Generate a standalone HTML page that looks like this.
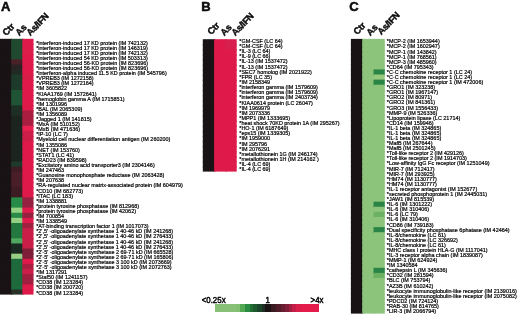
<!DOCTYPE html>
<html><head><meta charset="utf-8"><style>
html,body{margin:0;padding:0;background:#fff;width:520px;height:316px;overflow:hidden;position:relative}
body{filter:blur(0.3px)}
body{font-family:"Liberation Sans",sans-serif;color:#111}
.lbl{position:absolute;font-weight:bold;font-size:13px;line-height:12px;-webkit-text-stroke:0.5px #000}
.txt text{fill:#000;stroke:#000;stroke-width:0.2px;font-family:'Liberation Sans',sans-serif}
.hd{position:absolute;font-weight:bold;font-size:9.2px;letter-spacing:-0.25px;-webkit-text-stroke:0.4px #000;line-height:8px;white-space:nowrap;transform-origin:0 100%;transform:rotate(-46deg)}
.cb{position:absolute;font-size:8.1px;line-height:8px;white-space:nowrap;font-weight:normal;-webkit-text-stroke:0.45px #000}
</style></head><body>
<div class="lbl" style="left:1px;top:1px">A</div>
<div class="lbl" style="left:201.3px;top:1px">B</div>
<div class="lbl" style="left:349.3px;top:1px">C</div>
<div class="hd" style="left:7.20px;top:28.60px;letter-spacing:-0.15px">Ctr</div>
<div class="hd" style="left:19.60px;top:29.20px;letter-spacing:-0.1px">As</div>
<div class="hd" style="left:31.20px;top:29.00px;letter-spacing:-0.3px">As/IFN</div>
<div class="hd" style="left:212.10px;top:28.10px;letter-spacing:-0.15px">Ctr</div>
<div class="hd" style="left:224.50px;top:28.70px;letter-spacing:-0.1px">As</div>
<div class="hd" style="left:236.10px;top:28.50px;letter-spacing:-0.3px">As/IFN</div>
<div class="hd" style="left:358.20px;top:28.00px;letter-spacing:-0.15px">Ctr</div>
<div class="hd" style="left:370.60px;top:28.60px;letter-spacing:-0.1px">As</div>
<div class="hd" style="left:382.20px;top:28.40px;letter-spacing:-0.3px">As/IFN</div>
<svg width="520" height="316" viewBox="0 0 520 316" style="position:absolute;left:0;top:0">
<rect x="0.000" y="38.800" width="12.370" height="6.316" fill="#1a1315"/>
<rect x="0.000" y="43.916" width="12.370" height="6.316" fill="#1a1315"/>
<rect x="0.000" y="49.032" width="12.370" height="6.316" fill="#1a1315"/>
<rect x="0.000" y="54.148" width="12.370" height="6.316" fill="#1a1315"/>
<rect x="0.000" y="59.264" width="12.370" height="6.316" fill="#1a1315"/>
<rect x="0.000" y="64.380" width="12.370" height="6.316" fill="#1a1315"/>
<rect x="0.000" y="69.496" width="12.370" height="6.316" fill="#1a1315"/>
<rect x="0.000" y="74.612" width="12.370" height="6.316" fill="#1a1315"/>
<rect x="0.000" y="79.728" width="12.370" height="6.316" fill="#1a1315"/>
<rect x="0.000" y="84.844" width="12.370" height="6.316" fill="#1a1315"/>
<rect x="0.000" y="89.960" width="12.370" height="6.316" fill="#1a1315"/>
<rect x="0.000" y="95.076" width="12.370" height="6.316" fill="#1a1315"/>
<rect x="0.000" y="100.192" width="12.370" height="6.316" fill="#1a1315"/>
<rect x="0.000" y="105.308" width="12.370" height="6.316" fill="#1a1315"/>
<rect x="0.000" y="110.424" width="12.370" height="6.316" fill="#1a1315"/>
<rect x="0.000" y="115.540" width="12.370" height="6.316" fill="#1a1315"/>
<rect x="0.000" y="120.656" width="12.370" height="6.316" fill="#1a1315"/>
<rect x="0.000" y="125.772" width="12.370" height="6.316" fill="#1a1315"/>
<rect x="0.000" y="130.888" width="12.370" height="6.316" fill="#1a1315"/>
<rect x="0.000" y="136.004" width="12.370" height="6.316" fill="#1a1315"/>
<rect x="0.000" y="141.120" width="12.370" height="6.316" fill="#1a1315"/>
<rect x="0.000" y="146.236" width="12.370" height="6.316" fill="#1a1315"/>
<rect x="0.000" y="151.352" width="12.370" height="6.316" fill="#1a1315"/>
<rect x="0.000" y="156.468" width="12.370" height="6.316" fill="#1a1315"/>
<rect x="0.000" y="161.584" width="12.370" height="6.316" fill="#1a1315"/>
<rect x="0.000" y="166.700" width="12.370" height="6.316" fill="#1a1315"/>
<rect x="0.000" y="171.816" width="12.370" height="6.316" fill="#1a1315"/>
<rect x="0.000" y="176.932" width="12.370" height="6.316" fill="#1a1315"/>
<rect x="0.000" y="182.048" width="12.370" height="6.316" fill="#1a1315"/>
<rect x="0.000" y="187.164" width="12.370" height="6.316" fill="#1a1315"/>
<rect x="0.000" y="192.280" width="12.370" height="6.316" fill="#1a1315"/>
<rect x="0.000" y="197.396" width="12.370" height="6.316" fill="#1a1315"/>
<rect x="0.000" y="202.512" width="12.370" height="6.316" fill="#1a1315"/>
<rect x="0.000" y="207.628" width="12.370" height="6.316" fill="#1a1315"/>
<rect x="0.000" y="212.744" width="12.370" height="6.316" fill="#1a1315"/>
<rect x="0.000" y="217.860" width="12.370" height="6.316" fill="#1a1315"/>
<rect x="0.000" y="222.976" width="12.370" height="6.316" fill="#1a1315"/>
<rect x="0.000" y="228.092" width="12.370" height="6.316" fill="#1a1315"/>
<rect x="0.000" y="233.208" width="12.370" height="6.316" fill="#1a1315"/>
<rect x="0.000" y="238.324" width="12.370" height="6.316" fill="#1a1315"/>
<rect x="0.000" y="243.440" width="12.370" height="6.316" fill="#1a1315"/>
<rect x="0.000" y="248.556" width="12.370" height="6.316" fill="#1a1315"/>
<rect x="0.000" y="253.672" width="12.370" height="6.316" fill="#1a1315"/>
<rect x="0.000" y="258.788" width="12.370" height="6.316" fill="#1a1315"/>
<rect x="0.000" y="263.904" width="12.370" height="6.316" fill="#1a1315"/>
<rect x="0.000" y="269.020" width="12.370" height="6.316" fill="#1a1315"/>
<rect x="0.000" y="274.136" width="12.370" height="6.316" fill="#1a1315"/>
<rect x="0.000" y="279.252" width="12.370" height="6.316" fill="#1a1315"/>
<rect x="0.000" y="284.368" width="12.370" height="6.316" fill="#1a1315"/>
<rect x="0.000" y="289.484" width="12.370" height="5.116" fill="#1a1315"/>
<rect x="11.170" y="38.800" width="12.370" height="6.316" fill="#1f4a30"/>
<rect x="11.170" y="43.916" width="12.370" height="6.316" fill="#1f4a30"/>
<rect x="11.170" y="49.032" width="12.370" height="6.316" fill="#1f4a30"/>
<rect x="11.170" y="54.148" width="12.370" height="6.316" fill="#1f4a30"/>
<rect x="11.170" y="59.264" width="12.370" height="6.316" fill="#4a2028"/>
<rect x="11.170" y="64.380" width="12.370" height="6.316" fill="#2a2224"/>
<rect x="11.170" y="69.496" width="12.370" height="6.316" fill="#222a24"/>
<rect x="11.170" y="74.612" width="12.370" height="6.316" fill="#1e3a2a"/>
<rect x="11.170" y="79.728" width="12.370" height="6.316" fill="#1e3a2a"/>
<rect x="11.170" y="84.844" width="12.370" height="6.316" fill="#1e3a2a"/>
<rect x="11.170" y="89.960" width="12.370" height="6.316" fill="#1f5535"/>
<rect x="11.170" y="95.076" width="12.370" height="6.316" fill="#1f5535"/>
<rect x="11.170" y="100.192" width="12.370" height="6.316" fill="#1f5535"/>
<rect x="11.170" y="105.308" width="12.370" height="6.316" fill="#1e3026"/>
<rect x="11.170" y="110.424" width="12.370" height="6.316" fill="#1e3026"/>
<rect x="11.170" y="115.540" width="12.370" height="6.316" fill="#1c2420"/>
<rect x="11.170" y="120.656" width="12.370" height="6.316" fill="#1c2420"/>
<rect x="11.170" y="125.772" width="12.370" height="6.316" fill="#1c2420"/>
<rect x="11.170" y="130.888" width="12.370" height="6.316" fill="#1c2420"/>
<rect x="11.170" y="136.004" width="12.370" height="6.316" fill="#1c2420"/>
<rect x="11.170" y="141.120" width="12.370" height="6.316" fill="#1c2420"/>
<rect x="11.170" y="146.236" width="12.370" height="6.316" fill="#1c2420"/>
<rect x="11.170" y="151.352" width="12.370" height="6.316" fill="#1c2420"/>
<rect x="11.170" y="156.468" width="12.370" height="6.316" fill="#1c2420"/>
<rect x="11.170" y="161.584" width="12.370" height="6.316" fill="#1e3a2a"/>
<rect x="11.170" y="166.700" width="12.370" height="6.316" fill="#3e1c24"/>
<rect x="11.170" y="171.816" width="12.370" height="6.316" fill="#4a1e28"/>
<rect x="11.170" y="176.932" width="12.370" height="6.316" fill="#4a1e28"/>
<rect x="11.170" y="182.048" width="12.370" height="6.316" fill="#4a1e28"/>
<rect x="11.170" y="187.164" width="12.370" height="6.316" fill="#3e1c24"/>
<rect x="11.170" y="192.280" width="12.370" height="6.316" fill="#3e1c24"/>
<rect x="11.170" y="197.396" width="12.370" height="6.316" fill="#288c48"/>
<rect x="11.170" y="202.512" width="12.370" height="6.316" fill="#288c48"/>
<rect x="11.170" y="207.628" width="12.370" height="6.316" fill="#96d084"/>
<rect x="11.170" y="212.744" width="12.370" height="6.316" fill="#288c48"/>
<rect x="11.170" y="217.860" width="12.370" height="6.316" fill="#96d084"/>
<rect x="11.170" y="222.976" width="12.370" height="6.316" fill="#23783f"/>
<rect x="11.170" y="228.092" width="12.370" height="6.316" fill="#23783f"/>
<rect x="11.170" y="233.208" width="12.370" height="6.316" fill="#23783f"/>
<rect x="11.170" y="238.324" width="12.370" height="6.316" fill="#50a860"/>
<rect x="11.170" y="243.440" width="12.370" height="6.316" fill="#1a2a22"/>
<rect x="11.170" y="248.556" width="12.370" height="6.316" fill="#1a2a22"/>
<rect x="11.170" y="253.672" width="12.370" height="6.316" fill="#96d084"/>
<rect x="11.170" y="258.788" width="12.370" height="6.316" fill="#1f6a3c"/>
<rect x="11.170" y="263.904" width="12.370" height="6.316" fill="#1f6a3c"/>
<rect x="11.170" y="269.020" width="12.370" height="6.316" fill="#1f6a3c"/>
<rect x="11.170" y="274.136" width="12.370" height="6.316" fill="#1f6a3c"/>
<rect x="11.170" y="279.252" width="12.370" height="6.316" fill="#1f6a3c"/>
<rect x="11.170" y="284.368" width="12.370" height="6.316" fill="#1f6a3c"/>
<rect x="11.170" y="289.484" width="12.370" height="5.116" fill="#283028"/>
<rect x="22.340" y="38.800" width="11.170" height="6.316" fill="#de1a4a"/>
<rect x="22.340" y="43.916" width="11.170" height="6.316" fill="#de1a4a"/>
<rect x="22.340" y="49.032" width="11.170" height="6.316" fill="#dc1e4a"/>
<rect x="22.340" y="54.148" width="11.170" height="6.316" fill="#de1a4a"/>
<rect x="22.340" y="59.264" width="11.170" height="6.316" fill="#de1a4a"/>
<rect x="22.340" y="64.380" width="11.170" height="6.316" fill="#de1a4a"/>
<rect x="22.340" y="69.496" width="11.170" height="6.316" fill="#de1a4a"/>
<rect x="22.340" y="74.612" width="11.170" height="6.316" fill="#d41e48"/>
<rect x="22.340" y="79.728" width="11.170" height="6.316" fill="#de1a4a"/>
<rect x="22.340" y="84.844" width="11.170" height="6.316" fill="#de1a4a"/>
<rect x="22.340" y="89.960" width="11.170" height="6.316" fill="#de1a4a"/>
<rect x="22.340" y="95.076" width="11.170" height="6.316" fill="#de1a4a"/>
<rect x="22.340" y="100.192" width="11.170" height="6.316" fill="#de1a4a"/>
<rect x="22.340" y="105.308" width="11.170" height="6.316" fill="#de1a4a"/>
<rect x="22.340" y="110.424" width="11.170" height="6.316" fill="#a81e40"/>
<rect x="22.340" y="115.540" width="11.170" height="6.316" fill="#a81e40"/>
<rect x="22.340" y="120.656" width="11.170" height="6.316" fill="#a81e40"/>
<rect x="22.340" y="125.772" width="11.170" height="6.316" fill="#ea2050"/>
<rect x="22.340" y="130.888" width="11.170" height="6.316" fill="#cc1e48"/>
<rect x="22.340" y="136.004" width="11.170" height="6.316" fill="#cc1e48"/>
<rect x="22.340" y="141.120" width="11.170" height="6.316" fill="#de1a4a"/>
<rect x="22.340" y="146.236" width="11.170" height="6.316" fill="#de1a4a"/>
<rect x="22.340" y="151.352" width="11.170" height="6.316" fill="#de1a4a"/>
<rect x="22.340" y="156.468" width="11.170" height="6.316" fill="#de1a4a"/>
<rect x="22.340" y="161.584" width="11.170" height="6.316" fill="#de1a4a"/>
<rect x="22.340" y="166.700" width="11.170" height="6.316" fill="#de1a4a"/>
<rect x="22.340" y="171.816" width="11.170" height="6.316" fill="#de1a4a"/>
<rect x="22.340" y="176.932" width="11.170" height="6.316" fill="#de1a4a"/>
<rect x="22.340" y="182.048" width="11.170" height="6.316" fill="#de1a4a"/>
<rect x="22.340" y="187.164" width="11.170" height="6.316" fill="#de1a4a"/>
<rect x="22.340" y="192.280" width="11.170" height="6.316" fill="#de1a4a"/>
<rect x="22.340" y="197.396" width="11.170" height="6.316" fill="#962040"/>
<rect x="22.340" y="202.512" width="11.170" height="6.316" fill="#962040"/>
<rect x="22.340" y="207.628" width="11.170" height="6.316" fill="#de1a4a"/>
<rect x="22.340" y="212.744" width="11.170" height="6.316" fill="#962040"/>
<rect x="22.340" y="217.860" width="11.170" height="6.316" fill="#de1a4a"/>
<rect x="22.340" y="222.976" width="11.170" height="6.316" fill="#a02040"/>
<rect x="22.340" y="228.092" width="11.170" height="6.316" fill="#c81e48"/>
<rect x="22.340" y="233.208" width="11.170" height="6.316" fill="#c81e48"/>
<rect x="22.340" y="238.324" width="11.170" height="6.316" fill="#c81e48"/>
<rect x="22.340" y="243.440" width="11.170" height="6.316" fill="#c81e48"/>
<rect x="22.340" y="248.556" width="11.170" height="6.316" fill="#7e1e38"/>
<rect x="22.340" y="253.672" width="11.170" height="6.316" fill="#7e1e38"/>
<rect x="22.340" y="258.788" width="11.170" height="6.316" fill="#de1a4a"/>
<rect x="22.340" y="263.904" width="11.170" height="6.316" fill="#aa1e42"/>
<rect x="22.340" y="269.020" width="11.170" height="6.316" fill="#c81e48"/>
<rect x="22.340" y="274.136" width="11.170" height="6.316" fill="#a01e40"/>
<rect x="22.340" y="279.252" width="11.170" height="6.316" fill="#a01e40"/>
<rect x="22.340" y="284.368" width="11.170" height="6.316" fill="#de1a4a"/>
<rect x="22.340" y="289.484" width="11.170" height="5.116" fill="#de1a4a"/>
<rect x="202.800" y="39.200" width="12.500" height="6.292" fill="#1a1315"/>
<rect x="202.800" y="44.292" width="12.500" height="6.292" fill="#1a1315"/>
<rect x="202.800" y="49.385" width="12.500" height="6.292" fill="#1a1315"/>
<rect x="202.800" y="54.477" width="12.500" height="6.292" fill="#1a1315"/>
<rect x="202.800" y="59.569" width="12.500" height="6.292" fill="#1a1315"/>
<rect x="202.800" y="64.662" width="12.500" height="6.292" fill="#1a1315"/>
<rect x="202.800" y="69.754" width="12.500" height="6.292" fill="#1a1315"/>
<rect x="202.800" y="74.846" width="12.500" height="6.292" fill="#1a1315"/>
<rect x="202.800" y="79.938" width="12.500" height="6.292" fill="#1a1315"/>
<rect x="202.800" y="85.031" width="12.500" height="6.292" fill="#1a1315"/>
<rect x="202.800" y="90.123" width="12.500" height="6.292" fill="#1a1315"/>
<rect x="202.800" y="95.215" width="12.500" height="6.292" fill="#1a1315"/>
<rect x="202.800" y="100.308" width="12.500" height="6.292" fill="#1a1315"/>
<rect x="202.800" y="105.400" width="12.500" height="6.292" fill="#1a1315"/>
<rect x="202.800" y="110.492" width="12.500" height="6.292" fill="#1a1315"/>
<rect x="202.800" y="115.585" width="12.500" height="6.292" fill="#1a1315"/>
<rect x="202.800" y="120.677" width="12.500" height="6.292" fill="#1a1315"/>
<rect x="202.800" y="125.769" width="12.500" height="6.292" fill="#1a1315"/>
<rect x="202.800" y="130.862" width="12.500" height="6.292" fill="#1a1315"/>
<rect x="202.800" y="135.954" width="12.500" height="6.292" fill="#1a1315"/>
<rect x="202.800" y="141.046" width="12.500" height="6.292" fill="#1a1315"/>
<rect x="202.800" y="146.138" width="12.500" height="6.292" fill="#1a1315"/>
<rect x="202.800" y="151.231" width="12.500" height="6.292" fill="#1a1315"/>
<rect x="202.800" y="156.323" width="12.500" height="6.292" fill="#1a1315"/>
<rect x="202.800" y="161.415" width="12.500" height="6.292" fill="#1a1315"/>
<rect x="202.800" y="166.508" width="12.500" height="5.092" fill="#1a1315"/>
<rect x="214.100" y="39.200" width="12.500" height="6.292" fill="#de1a4a"/>
<rect x="214.100" y="44.292" width="12.500" height="6.292" fill="#de1a4a"/>
<rect x="214.100" y="49.385" width="12.500" height="6.292" fill="#de1a4a"/>
<rect x="214.100" y="54.477" width="12.500" height="6.292" fill="#de1a4a"/>
<rect x="214.100" y="59.569" width="12.500" height="6.292" fill="#de1a4a"/>
<rect x="214.100" y="64.662" width="12.500" height="6.292" fill="#de1a4a"/>
<rect x="214.100" y="69.754" width="12.500" height="6.292" fill="#de1a4a"/>
<rect x="214.100" y="74.846" width="12.500" height="6.292" fill="#de1a4a"/>
<rect x="214.100" y="79.938" width="12.500" height="6.292" fill="#de1a4a"/>
<rect x="214.100" y="85.031" width="12.500" height="6.292" fill="#de1a4a"/>
<rect x="214.100" y="90.123" width="12.500" height="6.292" fill="#de1a4a"/>
<rect x="214.100" y="95.215" width="12.500" height="6.292" fill="#de1a4a"/>
<rect x="214.100" y="100.308" width="12.500" height="6.292" fill="#de1a4a"/>
<rect x="214.100" y="105.400" width="12.500" height="6.292" fill="#de1a4a"/>
<rect x="214.100" y="110.492" width="12.500" height="6.292" fill="#de1a4a"/>
<rect x="214.100" y="115.585" width="12.500" height="6.292" fill="#de1a4a"/>
<rect x="214.100" y="120.677" width="12.500" height="6.292" fill="#de1a4a"/>
<rect x="214.100" y="125.769" width="12.500" height="6.292" fill="#de1a4a"/>
<rect x="214.100" y="130.862" width="12.500" height="6.292" fill="#de1a4a"/>
<rect x="214.100" y="135.954" width="12.500" height="6.292" fill="#de1a4a"/>
<rect x="214.100" y="141.046" width="12.500" height="6.292" fill="#de1a4a"/>
<rect x="214.100" y="146.138" width="12.500" height="6.292" fill="#de1a4a"/>
<rect x="214.100" y="151.231" width="12.500" height="6.292" fill="#de1a4a"/>
<rect x="214.100" y="156.323" width="12.500" height="6.292" fill="#de1a4a"/>
<rect x="214.100" y="161.415" width="12.500" height="6.292" fill="#de1a4a"/>
<rect x="214.100" y="166.508" width="12.500" height="5.092" fill="#de1a4a"/>
<rect x="225.400" y="39.200" width="11.300" height="6.292" fill="#d8204e"/>
<rect x="225.400" y="44.292" width="11.300" height="6.292" fill="#d8204e"/>
<rect x="225.400" y="49.385" width="11.300" height="6.292" fill="#de1a4a"/>
<rect x="225.400" y="54.477" width="11.300" height="6.292" fill="#de1a4a"/>
<rect x="225.400" y="59.569" width="11.300" height="6.292" fill="#de1a4a"/>
<rect x="225.400" y="64.662" width="11.300" height="6.292" fill="#de1a4a"/>
<rect x="225.400" y="69.754" width="11.300" height="6.292" fill="#de1a4a"/>
<rect x="225.400" y="74.846" width="11.300" height="6.292" fill="#de1a4a"/>
<rect x="225.400" y="79.938" width="11.300" height="6.292" fill="#de1a4a"/>
<rect x="225.400" y="85.031" width="11.300" height="6.292" fill="#de1a4a"/>
<rect x="225.400" y="90.123" width="11.300" height="6.292" fill="#de1a4a"/>
<rect x="225.400" y="95.215" width="11.300" height="6.292" fill="#de1a4a"/>
<rect x="225.400" y="100.308" width="11.300" height="6.292" fill="#de1a4a"/>
<rect x="225.400" y="105.400" width="11.300" height="6.292" fill="#de1a4a"/>
<rect x="225.400" y="110.492" width="11.300" height="6.292" fill="#de1a4a"/>
<rect x="225.400" y="115.585" width="11.300" height="6.292" fill="#de1a4a"/>
<rect x="225.400" y="120.677" width="11.300" height="6.292" fill="#de1a4a"/>
<rect x="225.400" y="125.769" width="11.300" height="6.292" fill="#de1a4a"/>
<rect x="225.400" y="130.862" width="11.300" height="6.292" fill="#de1a4a"/>
<rect x="225.400" y="135.954" width="11.300" height="6.292" fill="#de1a4a"/>
<rect x="225.400" y="141.046" width="11.300" height="6.292" fill="#de1a4a"/>
<rect x="225.400" y="146.138" width="11.300" height="6.292" fill="#de1a4a"/>
<rect x="225.400" y="151.231" width="11.300" height="6.292" fill="#de1a4a"/>
<rect x="225.400" y="156.323" width="11.300" height="6.292" fill="#de1a4a"/>
<rect x="225.400" y="161.415" width="11.300" height="6.292" fill="#de1a4a"/>
<rect x="225.400" y="166.508" width="11.300" height="5.092" fill="#de1a4a"/>
<rect x="350.900" y="38.900" width="12.500" height="6.287" fill="#181214"/>
<rect x="350.900" y="43.987" width="12.500" height="6.287" fill="#181214"/>
<rect x="350.900" y="49.074" width="12.500" height="6.287" fill="#181214"/>
<rect x="350.900" y="54.161" width="12.500" height="6.287" fill="#181214"/>
<rect x="350.900" y="59.248" width="12.500" height="6.287" fill="#181214"/>
<rect x="350.900" y="64.335" width="12.500" height="6.287" fill="#181214"/>
<rect x="350.900" y="69.422" width="12.500" height="6.287" fill="#181214"/>
<rect x="350.900" y="74.509" width="12.500" height="6.287" fill="#181214"/>
<rect x="350.900" y="79.596" width="12.500" height="6.287" fill="#181214"/>
<rect x="350.900" y="84.683" width="12.500" height="6.287" fill="#181214"/>
<rect x="350.900" y="89.770" width="12.500" height="6.287" fill="#181214"/>
<rect x="350.900" y="94.857" width="12.500" height="6.287" fill="#181214"/>
<rect x="350.900" y="99.944" width="12.500" height="6.287" fill="#181214"/>
<rect x="350.900" y="105.031" width="12.500" height="6.287" fill="#181214"/>
<rect x="350.900" y="110.119" width="12.500" height="6.287" fill="#181214"/>
<rect x="350.900" y="115.206" width="12.500" height="6.287" fill="#181214"/>
<rect x="350.900" y="120.293" width="12.500" height="6.287" fill="#181214"/>
<rect x="350.900" y="125.380" width="12.500" height="6.287" fill="#181214"/>
<rect x="350.900" y="130.467" width="12.500" height="6.287" fill="#181214"/>
<rect x="350.900" y="135.554" width="12.500" height="6.287" fill="#181214"/>
<rect x="350.900" y="140.641" width="12.500" height="6.287" fill="#181214"/>
<rect x="350.900" y="145.728" width="12.500" height="6.287" fill="#181214"/>
<rect x="350.900" y="150.815" width="12.500" height="6.287" fill="#181214"/>
<rect x="350.900" y="155.902" width="12.500" height="6.287" fill="#181214"/>
<rect x="350.900" y="160.989" width="12.500" height="6.287" fill="#181214"/>
<rect x="350.900" y="166.076" width="12.500" height="6.287" fill="#181214"/>
<rect x="350.900" y="171.163" width="12.500" height="6.287" fill="#181214"/>
<rect x="350.900" y="176.250" width="12.500" height="6.287" fill="#181214"/>
<rect x="350.900" y="181.337" width="12.500" height="6.287" fill="#181214"/>
<rect x="350.900" y="186.424" width="12.500" height="6.287" fill="#181214"/>
<rect x="350.900" y="191.511" width="12.500" height="6.287" fill="#181214"/>
<rect x="350.900" y="196.598" width="12.500" height="6.287" fill="#181214"/>
<rect x="350.900" y="201.685" width="12.500" height="6.287" fill="#181214"/>
<rect x="350.900" y="206.772" width="12.500" height="6.287" fill="#181214"/>
<rect x="350.900" y="211.859" width="12.500" height="6.287" fill="#181214"/>
<rect x="350.900" y="216.946" width="12.500" height="6.287" fill="#181214"/>
<rect x="350.900" y="222.033" width="12.500" height="6.287" fill="#181214"/>
<rect x="350.900" y="227.120" width="12.500" height="6.287" fill="#181214"/>
<rect x="350.900" y="232.207" width="12.500" height="6.287" fill="#181214"/>
<rect x="350.900" y="237.294" width="12.500" height="6.287" fill="#181214"/>
<rect x="350.900" y="242.381" width="12.500" height="6.287" fill="#181214"/>
<rect x="350.900" y="247.469" width="12.500" height="6.287" fill="#181214"/>
<rect x="350.900" y="252.556" width="12.500" height="6.287" fill="#181214"/>
<rect x="350.900" y="257.643" width="12.500" height="6.287" fill="#181214"/>
<rect x="350.900" y="262.730" width="12.500" height="6.287" fill="#181214"/>
<rect x="350.900" y="267.817" width="12.500" height="6.287" fill="#181214"/>
<rect x="350.900" y="272.904" width="12.500" height="6.287" fill="#181214"/>
<rect x="350.900" y="277.991" width="12.500" height="6.287" fill="#181214"/>
<rect x="350.900" y="283.078" width="12.500" height="6.287" fill="#181214"/>
<rect x="350.900" y="288.165" width="12.500" height="6.287" fill="#181214"/>
<rect x="350.900" y="293.252" width="12.500" height="6.287" fill="#181214"/>
<rect x="350.900" y="298.339" width="12.500" height="6.287" fill="#181214"/>
<rect x="350.900" y="303.426" width="12.500" height="6.287" fill="#181214"/>
<rect x="350.900" y="308.513" width="12.500" height="5.087" fill="#181214"/>
<rect x="362.200" y="38.900" width="12.500" height="6.287" fill="#8cc47c"/>
<rect x="362.200" y="43.987" width="12.500" height="6.287" fill="#8cc47c"/>
<rect x="362.200" y="49.074" width="12.500" height="6.287" fill="#8cc47c"/>
<rect x="362.200" y="54.161" width="12.500" height="6.287" fill="#8cc47c"/>
<rect x="362.200" y="59.248" width="12.500" height="6.287" fill="#8cc47c"/>
<rect x="362.200" y="64.335" width="12.500" height="6.287" fill="#8cc47c"/>
<rect x="362.200" y="69.422" width="12.500" height="6.287" fill="#8cc47c"/>
<rect x="362.200" y="74.509" width="12.500" height="6.287" fill="#8cc47c"/>
<rect x="362.200" y="79.596" width="12.500" height="6.287" fill="#8cc47c"/>
<rect x="362.200" y="84.683" width="12.500" height="6.287" fill="#8cc47c"/>
<rect x="362.200" y="89.770" width="12.500" height="6.287" fill="#8cc47c"/>
<rect x="362.200" y="94.857" width="12.500" height="6.287" fill="#8cc47c"/>
<rect x="362.200" y="99.944" width="12.500" height="6.287" fill="#8cc47c"/>
<rect x="362.200" y="105.031" width="12.500" height="6.287" fill="#8cc47c"/>
<rect x="362.200" y="110.119" width="12.500" height="6.287" fill="#8cc47c"/>
<rect x="362.200" y="115.206" width="12.500" height="6.287" fill="#8cc47c"/>
<rect x="362.200" y="120.293" width="12.500" height="6.287" fill="#8cc47c"/>
<rect x="362.200" y="125.380" width="12.500" height="6.287" fill="#8cc47c"/>
<rect x="362.200" y="130.467" width="12.500" height="6.287" fill="#8cc47c"/>
<rect x="362.200" y="135.554" width="12.500" height="6.287" fill="#8cc47c"/>
<rect x="362.200" y="140.641" width="12.500" height="6.287" fill="#8cc47c"/>
<rect x="362.200" y="145.728" width="12.500" height="6.287" fill="#8cc47c"/>
<rect x="362.200" y="150.815" width="12.500" height="6.287" fill="#8cc47c"/>
<rect x="362.200" y="155.902" width="12.500" height="6.287" fill="#8cc47c"/>
<rect x="362.200" y="160.989" width="12.500" height="6.287" fill="#8cc47c"/>
<rect x="362.200" y="166.076" width="12.500" height="6.287" fill="#8cc47c"/>
<rect x="362.200" y="171.163" width="12.500" height="6.287" fill="#8cc47c"/>
<rect x="362.200" y="176.250" width="12.500" height="6.287" fill="#8cc47c"/>
<rect x="362.200" y="181.337" width="12.500" height="6.287" fill="#8cc47c"/>
<rect x="362.200" y="186.424" width="12.500" height="6.287" fill="#8cc47c"/>
<rect x="362.200" y="191.511" width="12.500" height="6.287" fill="#8cc47c"/>
<rect x="362.200" y="196.598" width="12.500" height="6.287" fill="#8cc47c"/>
<rect x="362.200" y="201.685" width="12.500" height="6.287" fill="#8cc47c"/>
<rect x="362.200" y="206.772" width="12.500" height="6.287" fill="#8cc47c"/>
<rect x="362.200" y="211.859" width="12.500" height="6.287" fill="#8cc47c"/>
<rect x="362.200" y="216.946" width="12.500" height="6.287" fill="#8cc47c"/>
<rect x="362.200" y="222.033" width="12.500" height="6.287" fill="#8cc47c"/>
<rect x="362.200" y="227.120" width="12.500" height="6.287" fill="#8cc47c"/>
<rect x="362.200" y="232.207" width="12.500" height="6.287" fill="#8cc47c"/>
<rect x="362.200" y="237.294" width="12.500" height="6.287" fill="#8cc47c"/>
<rect x="362.200" y="242.381" width="12.500" height="6.287" fill="#8cc47c"/>
<rect x="362.200" y="247.469" width="12.500" height="6.287" fill="#8cc47c"/>
<rect x="362.200" y="252.556" width="12.500" height="6.287" fill="#8cc47c"/>
<rect x="362.200" y="257.643" width="12.500" height="6.287" fill="#8cc47c"/>
<rect x="362.200" y="262.730" width="12.500" height="6.287" fill="#8cc47c"/>
<rect x="362.200" y="267.817" width="12.500" height="6.287" fill="#8cc47c"/>
<rect x="362.200" y="272.904" width="12.500" height="6.287" fill="#8cc47c"/>
<rect x="362.200" y="277.991" width="12.500" height="6.287" fill="#8cc47c"/>
<rect x="362.200" y="283.078" width="12.500" height="6.287" fill="#8cc47c"/>
<rect x="362.200" y="288.165" width="12.500" height="6.287" fill="#8cc47c"/>
<rect x="362.200" y="293.252" width="12.500" height="6.287" fill="#8cc47c"/>
<rect x="362.200" y="298.339" width="12.500" height="6.287" fill="#8cc47c"/>
<rect x="362.200" y="303.426" width="12.500" height="6.287" fill="#8cc47c"/>
<rect x="362.200" y="308.513" width="12.500" height="5.087" fill="#8cc47c"/>
<rect x="373.500" y="38.900" width="11.300" height="6.287" fill="#8cc47c"/>
<rect x="373.500" y="43.987" width="11.300" height="6.287" fill="#8cc47c"/>
<rect x="373.500" y="49.074" width="11.300" height="6.287" fill="#8cc47c"/>
<rect x="373.500" y="54.161" width="11.300" height="6.287" fill="#8cc47c"/>
<rect x="373.500" y="59.248" width="11.300" height="6.287" fill="#8cc47c"/>
<rect x="373.500" y="64.335" width="11.300" height="6.287" fill="#8cc47c"/>
<rect x="373.500" y="69.422" width="11.300" height="6.287" fill="#2a8445"/>
<rect x="373.500" y="74.509" width="11.300" height="6.287" fill="#98c87c"/>
<rect x="373.500" y="79.596" width="11.300" height="6.287" fill="#2a8445"/>
<rect x="373.500" y="84.683" width="11.300" height="6.287" fill="#8cc47c"/>
<rect x="373.500" y="89.770" width="11.300" height="6.287" fill="#8cc47c"/>
<rect x="373.500" y="94.857" width="11.300" height="6.287" fill="#8cc47c"/>
<rect x="373.500" y="99.944" width="11.300" height="6.287" fill="#8cc47c"/>
<rect x="373.500" y="105.031" width="11.300" height="6.287" fill="#8cc47c"/>
<rect x="373.500" y="110.119" width="11.300" height="6.287" fill="#8cc47c"/>
<rect x="373.500" y="115.206" width="11.300" height="6.287" fill="#8cc47c"/>
<rect x="373.500" y="120.293" width="11.300" height="6.287" fill="#8cc47c"/>
<rect x="373.500" y="125.380" width="11.300" height="6.287" fill="#8cc47c"/>
<rect x="373.500" y="130.467" width="11.300" height="6.287" fill="#8cc47c"/>
<rect x="373.500" y="135.554" width="11.300" height="6.287" fill="#8cc47c"/>
<rect x="373.500" y="140.641" width="11.300" height="6.287" fill="#8cc47c"/>
<rect x="373.500" y="145.728" width="11.300" height="6.287" fill="#8cc47c"/>
<rect x="373.500" y="150.815" width="11.300" height="6.287" fill="#8cc47c"/>
<rect x="373.500" y="155.902" width="11.300" height="6.287" fill="#8cc47c"/>
<rect x="373.500" y="160.989" width="11.300" height="6.287" fill="#8cc47c"/>
<rect x="373.500" y="166.076" width="11.300" height="6.287" fill="#8cc47c"/>
<rect x="373.500" y="171.163" width="11.300" height="6.287" fill="#8cc47c"/>
<rect x="373.500" y="176.250" width="11.300" height="6.287" fill="#8cc47c"/>
<rect x="373.500" y="181.337" width="11.300" height="6.287" fill="#8cc47c"/>
<rect x="373.500" y="186.424" width="11.300" height="6.287" fill="#8cc47c"/>
<rect x="373.500" y="191.511" width="11.300" height="6.287" fill="#8cc47c"/>
<rect x="373.500" y="196.598" width="11.300" height="6.287" fill="#8cc47c"/>
<rect x="373.500" y="201.685" width="11.300" height="6.287" fill="#2a8445"/>
<rect x="373.500" y="206.772" width="11.300" height="6.287" fill="#8cc47c"/>
<rect x="373.500" y="211.859" width="11.300" height="6.287" fill="#6cb062"/>
<rect x="373.500" y="216.946" width="11.300" height="6.287" fill="#8cc47c"/>
<rect x="373.500" y="222.033" width="11.300" height="6.287" fill="#8cc47c"/>
<rect x="373.500" y="227.120" width="11.300" height="6.287" fill="#2a8445"/>
<rect x="373.500" y="232.207" width="11.300" height="6.287" fill="#8cc47c"/>
<rect x="373.500" y="237.294" width="11.300" height="6.287" fill="#8cc47c"/>
<rect x="373.500" y="242.381" width="11.300" height="6.287" fill="#8cc47c"/>
<rect x="373.500" y="247.469" width="11.300" height="6.287" fill="#8cc47c"/>
<rect x="373.500" y="252.556" width="11.300" height="6.287" fill="#8cc47c"/>
<rect x="373.500" y="257.643" width="11.300" height="6.287" fill="#8cc47c"/>
<rect x="373.500" y="262.730" width="11.300" height="6.287" fill="#8cc47c"/>
<rect x="373.500" y="267.817" width="11.300" height="6.287" fill="#2a8445"/>
<rect x="373.500" y="272.904" width="11.300" height="6.287" fill="#6cb062"/>
<rect x="373.500" y="277.991" width="11.300" height="6.287" fill="#8cc47c"/>
<rect x="373.500" y="283.078" width="11.300" height="6.287" fill="#8cc47c"/>
<rect x="373.500" y="288.165" width="11.300" height="6.287" fill="#8cc47c"/>
<rect x="373.500" y="293.252" width="11.300" height="6.287" fill="#8cc47c"/>
<rect x="373.500" y="298.339" width="11.300" height="6.287" fill="#8cc47c"/>
<rect x="373.500" y="303.426" width="11.300" height="6.287" fill="#8cc47c"/>
<rect x="373.500" y="308.513" width="11.300" height="5.087" fill="#8cc47c"/>
</svg>
<svg class="txt" width="520" height="316" viewBox="0 0 520 316" style="position:absolute;left:0;top:0;font-size:5.45px">
<text transform="translate(36.20,44.500) scale(1,0.85)">*interferon-induced 17 KD protein (IM 742132)</text>
<text transform="translate(36.20,49.604) scale(1,0.85)">*interferon-induced 17 KD protein (IM 146319)</text>
<text transform="translate(36.20,54.708) scale(1,0.85)">*interferon-induced 17 KD protein (IM 742132)</text>
<text transform="translate(36.20,59.812) scale(1,0.85)">*interferon-induced 54 KD protein (IM 503313)</text>
<text transform="translate(36.20,64.916) scale(1,0.85)">*interferon-induced 56-KD protein (IM 823696)</text>
<text transform="translate(36.20,70.020) scale(1,0.85)">*interferon-induced 56-KD protein (IM 823696)</text>
<text transform="translate(36.20,75.124) scale(1,0.85)">*interferon-alpha induced 11.5 KD protein (IM 545796)</text>
<text transform="translate(36.20,80.229) scale(1,0.85)">*VPREB3 (IM 1272158)</text>
<text transform="translate(36.20,85.333) scale(1,0.85)">*VPREB3 (IM 1272164)</text>
<text transform="translate(36.20,90.437) scale(1,0.85)">*IM 3605822</text>
<text transform="translate(36.20,95.541) scale(1,0.85)">*KIAA1769 (IM 1572641)</text>
<text transform="translate(36.20,100.645) scale(1,0.85)">*hemoglobin gamma A (IM 1715851)</text>
<text transform="translate(36.20,105.749) scale(1,0.85)">*IM 1301996</text>
<text transform="translate(36.20,110.853) scale(1,0.85)">*BAL (IM 2065309)</text>
<text transform="translate(36.20,115.957) scale(1,0.85)">*IM 1356089</text>
<text transform="translate(36.20,121.061) scale(1,0.85)">*Jagged 1 (IM 141815)</text>
<text transform="translate(36.20,126.165) scale(1,0.85)">*MxA (IM 510152)</text>
<text transform="translate(36.20,131.269) scale(1,0.85)">*MxB (IM 471636)</text>
<text transform="translate(36.20,136.373) scale(1,0.85)">*IP-10 (LC 7)</text>
<text transform="translate(36.20,141.478) scale(1,0.85)">*Myeloid cell nuclear differentiation antigen (IM 260200)</text>
<text transform="translate(36.20,146.582) scale(1,0.85)">*IM 1355086</text>
<text transform="translate(36.20,151.686) scale(1,0.85)">*NET (IM 153760)</text>
<text transform="translate(36.20,156.790) scale(1,0.85)">*STAT1 (LC 41)</text>
<text transform="translate(36.20,161.894) scale(1,0.85)">*RAD23 (IM 839598)</text>
<text transform="translate(36.20,166.998) scale(1,0.85)">*Excitatory amino acid transporter3 (IM 2304146)</text>
<text transform="translate(36.20,172.102) scale(1,0.85)">*IM 247463</text>
<text transform="translate(36.20,177.206) scale(1,0.85)">*Guanosine monophosphate reductase (IM 2063428)</text>
<text transform="translate(36.20,182.310) scale(1,0.85)">*IM 207638</text>
<text transform="translate(36.20,187.414) scale(1,0.85)">*RA-regulated nuclear matrix-associated protein (IM 604979)</text>
<text transform="translate(36.20,192.518) scale(1,0.85)">*CD10 (IM 682773)</text>
<text transform="translate(36.20,197.622) scale(1,0.85)">*ITAC (LC 183)</text>
<text transform="translate(36.20,202.727) scale(1,0.85)">*IM 1338881</text>
<text transform="translate(36.20,207.831) scale(1,0.85)">*protein tyrosine phosphatase (IM 812968)</text>
<text transform="translate(36.20,212.935) scale(1,0.85)">*protein tyrosine phosphatase (IM 42062)</text>
<text transform="translate(36.20,218.039) scale(1,0.85)">*IM 700854</text>
<text transform="translate(36.20,223.143) scale(1,0.85)">*IM 1338549</text>
<text transform="translate(36.20,228.247) scale(1,0.85)">*AT-binding transcription factor 1 (IM 1017073)</text>
<text transform="translate(36.20,233.351) scale(1,0.85)">*2',5' -oligoadenylate synthetase 1 40-46 kD (IM 241268)</text>
<text transform="translate(36.20,238.455) scale(1,0.85)">*2',5' -oligoadenylate synthetase 1 40-46 kD (IM 276433)</text>
<text transform="translate(36.20,243.559) scale(1,0.85)">*2',5' -oligoadenylate synthetase 1 40-46 kD (IM 241268)</text>
<text transform="translate(36.20,248.663) scale(1,0.85)">*2',5' -oligoadenylate synthetase 1 40-46 kD (IM 276433)</text>
<text transform="translate(36.20,253.767) scale(1,0.85)">*2'-5' -oligoadenylate synthetase 2 69-71 kD (IM 665528)</text>
<text transform="translate(36.20,258.871) scale(1,0.85)">*2'-5' -oligoadenylate synthetase 2 69-71 kD (IM 165806)</text>
<text transform="translate(36.20,263.976) scale(1,0.85)">*2'-5' -oligoadenylate synthetase 3 100 kD (IM 2073669)</text>
<text transform="translate(36.20,269.080) scale(1,0.85)">*2'-5' -oligoadenylate synthetase 3 100 kD (IM 2072763)</text>
<text transform="translate(36.20,274.184) scale(1,0.85)">*IM 1317291</text>
<text transform="translate(36.20,279.288) scale(1,0.85)">*Staf50 (IM 1241157)</text>
<text transform="translate(36.20,284.392) scale(1,0.85)">*CD38 (IM 123284)</text>
<text transform="translate(36.20,289.496) scale(1,0.85)">*CD38 (IM 200720)</text>
<text transform="translate(36.20,294.600) scale(1,0.85)">*CD38 (IM 123284)</text>
<text transform="translate(239.30,42.900) scale(1,0.85)">*GM-CSF (LC 64)</text>
<text transform="translate(239.30,48.036) scale(1,0.85)">*GM-CSF (LC 64)</text>
<text transform="translate(239.30,53.172) scale(1,0.85)">*IL-3 (LC 64)</text>
<text transform="translate(239.30,58.308) scale(1,0.85)">*IL-9 (LC 66)</text>
<text transform="translate(239.30,63.444) scale(1,0.85)">*IL-13 (IM 1537472)</text>
<text transform="translate(239.30,68.580) scale(1,0.85)">*IL-13 (IM 1537472)</text>
<text transform="translate(239.30,73.716) scale(1,0.85)">*SEC7 homolog (IM 2021922)</text>
<text transform="translate(239.30,78.852) scale(1,0.85)">*FPR (LC 35)</text>
<text transform="translate(239.30,83.988) scale(1,0.85)">*IM 2158349</text>
<text transform="translate(239.30,89.124) scale(1,0.85)">*interferon gamma (IM 1579609)</text>
<text transform="translate(239.30,94.260) scale(1,0.85)">*interferon gamma (IM 1579609)</text>
<text transform="translate(239.30,99.396) scale(1,0.85)">*interferon gamma (IM 2403734)</text>
<text transform="translate(239.30,104.532) scale(1,0.85)">*KIAA0614 protein (LC 26047)</text>
<text transform="translate(239.30,109.668) scale(1,0.85)">*IM 1969979</text>
<text transform="translate(239.30,114.804) scale(1,0.85)">*IM 2073336</text>
<text transform="translate(239.30,119.940) scale(1,0.85)">*MPP1 (IM 1333695)</text>
<text transform="translate(239.30,125.076) scale(1,0.85)">*heat shock 70KD protein 1A (IM 295267)</text>
<text transform="translate(239.30,130.212) scale(1,0.85)">*HO-1 (IM 6187649)</text>
<text transform="translate(239.30,135.348) scale(1,0.85)">*eps15 (IM 1339305)</text>
<text transform="translate(239.30,140.484) scale(1,0.85)">*IM 1959000</text>
<text transform="translate(239.30,145.620) scale(1,0.85)">*IM 295796</text>
<text transform="translate(239.30,150.756) scale(1,0.85)">*IM 2076291</text>
<text transform="translate(239.30,155.892) scale(1,0.85)">*metallothionein 1G (IM 246174)</text>
<text transform="translate(239.30,161.028) scale(1,0.85)">*metallothionein 1H (IM 214162 )</text>
<text transform="translate(239.30,166.164) scale(1,0.85)">*IL-4 (LC 69)</text>
<text transform="translate(239.30,171.300) scale(1,0.85)">*IL-4 (LC 69)</text>
<text transform="translate(386.80,43.400) scale(1,0.85)">*MCP-2 (IM 1653944)</text>
<text transform="translate(386.80,48.487) scale(1,0.85)">*MCP-2 (IM 1602947)</text>
<text transform="translate(386.80,53.574) scale(1,0.85)">*MCP-1 (IM 143842)</text>
<text transform="translate(386.80,58.660) scale(1,0.85)">*MCP-1 (IM 768561)</text>
<text transform="translate(386.80,63.747) scale(1,0.85)">*MCP-3 (IM 485960)</text>
<text transform="translate(386.80,68.834) scale(1,0.85)">*CD64 (IM 795343)</text>
<text transform="translate(386.80,73.921) scale(1,0.85)">*C-C chemokine receptor 1 (LC 24)</text>
<text transform="translate(386.80,79.008) scale(1,0.85)">*C-C chemokine receptor 1 (LC 24)</text>
<text transform="translate(386.80,84.094) scale(1,0.85)">*C-C chemokine receptor 1 (IM 472006)</text>
<text transform="translate(386.80,89.181) scale(1,0.85)">*GRO1 (IM 323238)</text>
<text transform="translate(386.80,94.268) scale(1,0.85)">*GRO1 (IM 1967147)</text>
<text transform="translate(386.80,99.355) scale(1,0.85)">*GRO2 (IM 80971)</text>
<text transform="translate(386.80,104.442) scale(1,0.85)">*GRO2 (IM 841361)</text>
<text transform="translate(386.80,109.528) scale(1,0.85)">*GRO3 (IM 1556433)</text>
<text transform="translate(386.80,114.615) scale(1,0.85)">*MMP-9 (IM 526336)</text>
<text transform="translate(386.80,119.702) scale(1,0.85)">*Lipoprotein lipase (LC 21714)</text>
<text transform="translate(386.80,124.789) scale(1,0.85)">*CD14 (IM 159946)</text>
<text transform="translate(386.80,129.875) scale(1,0.85)">*IL-1 beta (IM 324865)</text>
<text transform="translate(386.80,134.962) scale(1,0.85)">*IL-1 beta (IM 324865)</text>
<text transform="translate(386.80,140.049) scale(1,0.85)">*IL-1 beta (IM 324865)</text>
<text transform="translate(386.80,145.136) scale(1,0.85)">*MafB (IM 267644)</text>
<text transform="translate(386.80,150.223) scale(1,0.85)">*MafB (IM 2501245)</text>
<text transform="translate(386.80,155.309) scale(1,0.85)">*Toll-like receptor 2 (IM 429126)</text>
<text transform="translate(386.80,160.396) scale(1,0.85)">*Toll-like receptor 2 (IM 1914703)</text>
<text transform="translate(386.80,165.483) scale(1,0.85)">*Low-affinity IgG Fc receptor (IM 1251049)</text>
<text transform="translate(386.80,170.570) scale(1,0.85)">*MIR-7 (IM 712417)</text>
<text transform="translate(386.80,175.657) scale(1,0.85)">*MIR-7 (IM 293925)</text>
<text transform="translate(386.80,180.743) scale(1,0.85)">*HM74 (IM 1130777)</text>
<text transform="translate(386.80,185.830) scale(1,0.85)">*HM74 (IM 1130777)</text>
<text transform="translate(386.80,190.917) scale(1,0.85)">*IL-1 receptor antagonist (IM 152677)</text>
<text transform="translate(386.80,196.004) scale(1,0.85)">*secreted phosphoprotein 1 (IM 2445031)</text>
<text transform="translate(386.80,201.091) scale(1,0.85)">*JAW1 (IM 815539)</text>
<text transform="translate(386.80,206.177) scale(1,0.85)">*IL-6 (IM 1301222)</text>
<text transform="translate(386.80,211.264) scale(1,0.85)">*IL-6 (IM 310406)</text>
<text transform="translate(386.80,216.351) scale(1,0.85)">*IL-6 (LC 79)</text>
<text transform="translate(386.80,221.438) scale(1,0.85)">*IL-6 (IM 310406)</text>
<text transform="translate(386.80,226.525) scale(1,0.85)">*CD86 (IM 739183)</text>
<text transform="translate(386.80,231.611) scale(1,0.85)">*Dual specificity phosphatase 6phatase (IM 42464)</text>
<text transform="translate(386.80,236.698) scale(1,0.85)">*IL-8/chemokine (LC 61)</text>
<text transform="translate(386.80,241.785) scale(1,0.85)">*IL-8/chemokine (LC 326692)</text>
<text transform="translate(386.80,246.872) scale(1,0.85)">*IL-8/chemokine (LC 61)</text>
<text transform="translate(386.80,251.958) scale(1,0.85)">*MHC class I protein HLA-G (IM 1117041)</text>
<text transform="translate(386.80,257.045) scale(1,0.85)">*IL-3 receptor alpha chain (IM 1839087)</text>
<text transform="translate(386.80,262.132) scale(1,0.85)">*MMP-1 (IM 624924)</text>
<text transform="translate(386.80,267.219) scale(1,0.85)">*IM 1340584</text>
<text transform="translate(386.80,272.306) scale(1,0.85)">*cathepsin L (IM 345636)</text>
<text transform="translate(386.80,277.392) scale(1,0.85)">*CD32 (IM 281594)</text>
<text transform="translate(386.80,282.479) scale(1,0.85)">*BLC (IM 753794)</text>
<text transform="translate(386.80,287.566) scale(1,0.85)">*AZ3B (IM 610242)</text>
<text transform="translate(386.80,292.653) scale(1,0.85)">*leukocyte immunoglobulin-like receptor (IM 2139016)</text>
<text transform="translate(386.80,297.740) scale(1,0.85)">*leukocyte immunoglobulin-like receptor (IM 2075082)</text>
<text transform="translate(386.80,302.826) scale(1,0.85)">*PDCD2 (IM 724124)</text>
<text transform="translate(386.80,307.913) scale(1,0.85)">*RAB-30 (IM 814765)</text>
<text transform="translate(386.80,313.000) scale(1,0.85)">*LIR-3 (IM 2066794)</text>
</svg>
<svg style="position:absolute;left:214.8px;top:304.2px" width="104.50" height="8.3" viewBox="0 0 104.500 8.3" shape-rendering="crispEdges"><rect x="0.000" y="0" width="21.450" height="8.3" fill="#88c078"/><rect x="21.400" y="0" width="3.850" height="8.3" fill="#80c070"/><rect x="25.200" y="0" width="4.350" height="8.3" fill="#52a852"/><rect x="29.500" y="0" width="5.450" height="8.3" fill="#2a8c40"/><rect x="34.900" y="0" width="3.250" height="8.3" fill="#206e34"/><rect x="38.100" y="0" width="4.350" height="8.3" fill="#1e5a2e"/><rect x="42.400" y="0" width="4.350" height="8.3" fill="#1c4428"/><rect x="46.700" y="0" width="2.850" height="8.3" fill="#1e2e24"/><rect x="49.500" y="0" width="6.450" height="8.3" fill="#1a1214"/><rect x="55.900" y="0" width="4.850" height="8.3" fill="#3c1a22"/><rect x="60.700" y="0" width="5.050" height="8.3" fill="#501c2a"/><rect x="65.700" y="0" width="4.050" height="8.3" fill="#6a1c32"/><rect x="69.700" y="0" width="4.150" height="8.3" fill="#7e1e38"/><rect x="73.800" y="0" width="3.450" height="8.3" fill="#a01e40"/><rect x="77.200" y="0" width="4.050" height="8.3" fill="#c41e48"/><rect x="81.200" y="0" width="5.050" height="8.3" fill="#d81e4a"/><rect x="86.200" y="0" width="18.350" height="8.3" fill="#e41c4c"/></svg>
<svg width="520" height="316" viewBox="0 0 520 316" style="position:absolute;left:0;top:0" font-family="Liberation Sans" font-size="7.9" fill="#000" stroke="#000" stroke-width="0.4"><text transform="translate(201.7,302.8) scale(1,1.13)">&lt;0.25x</text><text transform="translate(265.6,302.8) scale(1,1.13)">1</text><text transform="translate(310.6,302.8) scale(1,1.13)">&gt;4x</text></svg>
</body></html>
